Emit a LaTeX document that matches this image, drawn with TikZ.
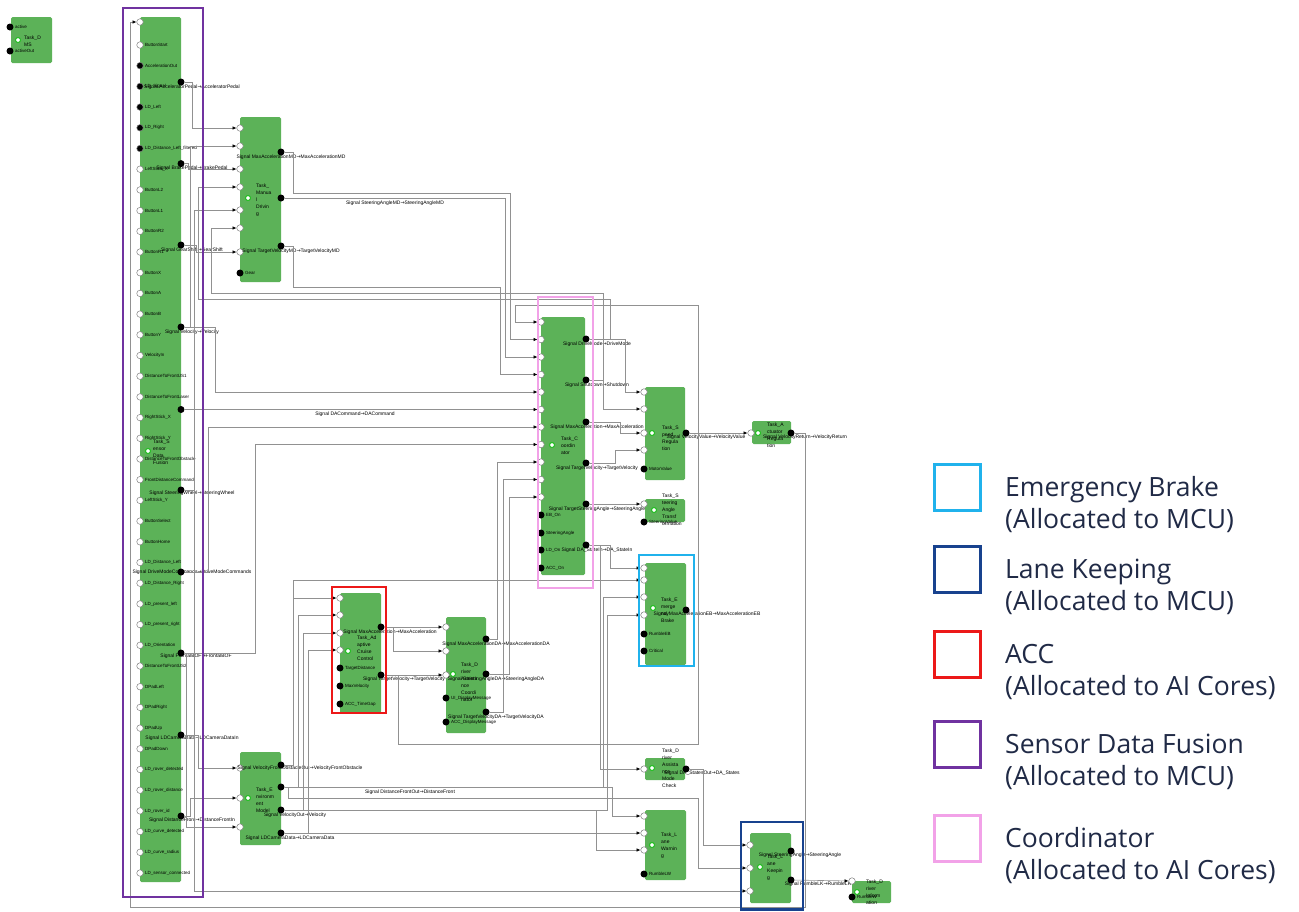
\documentclass[tikz,border=0pt]{standalone}
\usepackage{fontspec}
\setmainfont{Liberation Sans}
\newfontfamily\legendfont{Open Sans}
\newfontfamily\arrowfont{DejaVu Sans}
\newcommand{\sigto}{{\arrowfont →}}
\usetikzlibrary{arrows.meta}

\definecolor{taskgreen}{RGB}{92,178,88}
\definecolor{wiregray}{RGB}{145,145,145}
\definecolor{ebcyan}{RGB}{32,178,236}
\definecolor{lkblue}{RGB}{24,66,142}
\definecolor{accred}{RGB}{236,24,24}
\definecolor{sdfpurple}{RGB}{112,50,160}
\definecolor{coordpink}{RGB}{242,162,232}
\definecolor{legendtext}{RGB}{32,42,70}
\definecolor{icongreen}{RGB}{30,190,30}

\tikzset{
  task/.style={fill=taskgreen, rounded corners=1.5pt},
  inport/.style={circle, draw=gray, fill=white, line width=0.5pt, inner sep=0pt, minimum size=6.5pt},
  outport/.style={circle, fill=black, inner sep=0pt, minimum size=7pt},
  portlab/.style={anchor=west, inner sep=0pt, font=\fontsize{4.5}{5}\selectfont},
  siglab/.style={inner sep=0pt, font=\fontsize{5}{6}\selectfont},
  taskname/.style={anchor=west, align=left, inner sep=0pt, font=\fontsize{5}{7}\selectfont},
  taskicon/.style={circle, draw=icongreen, fill=white, line width=1pt, inner sep=0pt, minimum size=5pt},
  wire/.style={draw=wiregray, line width=0.6pt},
  zone/.style={line width=2.6pt},
  legbox/.style={draw, line width=3pt, inner sep=0pt, minimum size=46pt},
  legtext/.style={anchor=base west, inner sep=0pt, text=legendtext, font=\legendfont\fontsize{26.5}{30}\selectfont}
}

\begin{document}
\begin{tikzpicture}[x=1pt, y=-1pt, >={Latex[length=4pt,width=3.6pt,color=black]}]
  \useasboundingbox (0,0) rectangle (1299,911);
  \fill[white] (0,0) rectangle (1299,911);

  % task blocks
  \fill[task] (11,17) rectangle (52,63);
  \fill[task] (140,17) rectangle (181,882);
  \fill[task] (240,117) rectangle (281,282);
  \fill[task] (541,317) rectangle (585,575);
  \fill[task] (645,387) rectangle (685,480);
  \fill[task] (752,421) rectangle (791,444);
  \fill[task] (645,499) rectangle (685,522);
  \fill[task] (645,563) rectangle (686,665);
  \fill[task] (340,593) rectangle (381,713);
  \fill[task] (446,617) rectangle (486,733);
  \fill[task] (645,758) rectangle (685,780);
  \fill[task] (645,810) rectangle (686,880);
  \fill[task] (750,833) rectangle (791,903);
  \fill[task] (852,881) rectangle (891,903);
  \fill[task] (240,752) rectangle (281,845);

  % DMS
  \node[outport] (dmsa) at (10,27) {};
  \node[portlab] (dmsal) at (15,27) {active};
  \node[outport] (dmsb) at (10,51) {};
  \node[portlab] (dmsbl) at (15,51) {activeOut};
  \node[taskicon] (dmsic) at (18,40) {};
  \node[taskname] (dmsn) at (24,41) {Task\_D\\MS};

  % sensor data fusion
  \node[inport] (sdfin) at (140,22) {};
  \foreach \f/\t [count=\i] in {white/ButtonStart, black/AccelerationOut, black/LD\_Signal, black/LD\_Left, black/LD\_Right, black/LD\_Distance\_Left\_filtered, white/LeftStick\_X, white/ButtonL2, white/ButtonL1, white/ButtonR2, white/ButtonR1, white/ButtonX, white/ButtonA, white/ButtonB, white/ButtonY, white/VelocityIn, white/DistanceToFrontUS1, white/DistanceToFrontLaser, white/RightStick\_X, white/RightStick\_Y, white/DistanceToFrontObstacle, white/FrontDistanceCommand, white/LeftStick\_Y, white/ButtonSelect, white/ButtonHome, white/LD\_Distance\_Left, white/LD\_Distance\_Right, white/LD\_present\_left, white/LD\_present\_right, white/LD\_Orientation, white/DistanceToFrontUS2, white/DPadLeft, white/DPadRight, white/DPadUp, white/DPadDown, white/LD\_rover\_detected, white/LD\_rover\_distance, white/LD\_rover\_id, white/LD\_curve\_detected, white/LD\_curve\_radius, white/LD\_sensor\_connected} {
    \node[inport, fill=\f] (sdfp\i) at (140,{45+20.7*(\i-1)}) {};
    \node[portlab] (sdfpl\i) at (145,{45+20.7*(\i-1)}) {\t};
  }
  \foreach \y/\lx/\ly/\sa/\sb [count=\i] in {82/192/87/AcceleratorPedal/AcceleratorPedal, 163.6/192/168/BrakePedal/BrakePedal, 245/192/250/GearShift/GearShift, 327/192/332/Velocity/Velocity, 409.5/355/414/DACommand/DACommand, 490/192/493/SteeringWheel/SteeringWheel, 572/192/572/DriveModeCommands/DriveModeCommands, 653/196/656/FrontalBOF/FrontalBOF, 735/192/738/LDCameraData/LDCameraDataIn, 816/192/820/DistanceFront/DistanceFrontIn} {
    \node[outport] (sdfo\i) at (181,\y) {};
    \node[siglab] (sdfol\i) at (\lx,\ly) {Signal \sa\sigto\sb};
  }
  \node[taskicon] (sdfic) at (148,451) {};
  \node[taskname] (sdfn) at (153,452) {Task\_S\\ensor\\Data\\Fusion};

  % manual driving
  \foreach \y [count=\i] in {128,146,169,187,210,228,252}
    \node[inport] (mdi\i) at (240,\y) {};
  \node[outport] (mdg) at (240,273) {};
  \node[portlab] (mdgl) at (245,273) {Gear};
  \foreach \y/\lx/\ly/\sa [count=\i] in {152/291/157/MaxAccelerationMD, 198/395/203/SteeringAngleMD, 246/291/251/TargetVelocityMD} {
    \node[outport] (mdo\i) at (281,\y) {};
    \node[siglab] (mdol\i) at (\lx,\ly) {Signal \sa\sigto\sa};
  }
  \node[taskicon] (mdic) at (248,198) {};
  \node[taskname] (mdn) at (256,200) {Task\_\\Manua\\l\\Drivin\\g};

  % coordinator
  \foreach \i in {1,...,11}
    \node[inport] (coi\i) at (541,{322+17.5*(\i-1)}) {};
  \foreach \y/\t [count=\i] in {515/EB\_On, 533/SteeringAngle, 550/LD\_On, 568/ACC\_On} {
    \node[outport] (coe\i) at (541,\y) {};
    \node[portlab] (coel\i) at (546,\y) {\t};
  }
  \foreach \y/\sa/\sb [count=\i] in {339/DriveMode/DriveMode, 380/Shutdown/Shutdown, 422/MaxAcceleration/MaxAcceleration, 463/TargetVelocity/TargetVelocity, 504/TargetSteeringAngle/SteeringAngle, 545/DA\_StateIn/DA\_StateIn} {
    \node[outport] (coo\i) at (586,\y) {};
    \node[siglab] (cool\i) at (597,\y+5) {Signal \sa\sigto\sb};
  }
  \node[taskicon] (coic) at (552,445) {};
  \node[taskname] (con) at (561,446) {Task\_C\\oordin\\ator};

  % speed regulation
  \foreach \y [count=\i] in {392,409,433,450}
    \node[inport] (sri\i) at (644,\y) {};
  \node[outport] (sre) at (644,469) {};
  \node[portlab] (srel) at (649,469) {MotorValue};
  \node[outport] (sro) at (686,433) {};
  \node[siglab] (srol) at (706,437) {Signal VelocityValue\sigto VelocityValue};
  \node[taskicon] (sric) at (652,433) {};
  \node[taskname] (srn) at (662,438) {Task\_S\\peed\\Regula\\tion};

  % actuator regulation
  \node[inport] (ari) at (751,433) {};
  \node[outport] (aro) at (791,433) {};
  \node[siglab] (arol) at (805,437) {Signal VelocityReturn\sigto VelocityReturn};
  \node[taskicon] (aric) at (758,433) {};
  \node[taskname] (arn) at (767,435) {Task\_A\\ctuator\\Regula\\tion};

  % steering angle transformation
  \node[inport] (sti) at (644,504) {};
  \node[outport] (ste) at (644,522) {};
  \node[portlab] (stel) at (649,522) {SteeringValue};
  \node[taskicon] (stic) at (654,510) {};
  \node[taskname] (stn) at (662,510) {Task\_S\\teering\\Angle\\Transf\\ormation};

  % emergency brake
  \foreach \y [count=\i] in {568,580,597,615}
    \node[inport] (ebi\i) at (644,\y) {};
  \foreach \y/\t [count=\i] in {634/RumbleEB, 651/Critical} {
    \node[outport] (ebe\i) at (644,\y) {};
    \node[portlab] (ebel\i) at (649,\y) {\t};
  }
  \node[outport] (ebo) at (686,610) {};
  \node[siglab] (ebol) at (707,614) {Signal MaxAccelerationEB\sigto MaxAccelerationEB};
  \node[taskicon] (ebic) at (653,608) {};
  \node[taskname] (ebn) at (661,610) {Task\_E\\merge\\ncy\\Brake};

  % adaptive cruise control
  \foreach \y [count=\i] in {598,615,633,650}
    \node[inport] (aci\i) at (340,\y) {};
  \foreach \y/\t [count=\i] in {668/TargetDistance, 686/MaxVelocity, 704/ACC\_TimeGap} {
    \node[outport] (ace\i) at (340,\y) {};
    \node[portlab] (acel\i) at (345,\y) {\t};
  }
  \node[outport] (aco1) at (381,627) {};
  \node[siglab] (acol1) at (390,632) {Signal MaxAcceleration\sigto MaxAcceleration};
  \node[outport] (aco2) at (381,675) {};
  \node[siglab] (acol2) at (404,679) {Signal TargetVelocity\sigto TargetVelocity};
  \node[taskicon] (acic) at (348,651) {};
  \node[taskname] (acn) at (357,648) {Task\_Ad\\aptive\\Cruise\\Control};

  % driver assistance coordinator
  \foreach \y [count=\i] in {627,651,675}
    \node[inport] (dai\i) at (446,\y) {};
  \foreach \y/\t [count=\i] in {698/UI\_DisplayMessage, 722/ACC\_DisplayMessage} {
    \node[outport] (dae\i) at (446,\y) {};
    \node[portlab] (dael\i) at (451,\y) {\t};
  }
  \foreach \y/\sa [count=\i] in {639/MaxAccelerationDA, 674/SteeringAngleDA, 712/TargetVelocityDA} {
    \node[outport] (dao\i) at (486,\y) {};
    \node[siglab] (daol\i) at (496,\y+5) {Signal \sa\sigto\sa};
  }
  \node[taskicon] (daic) at (453,674) {};
  \node[taskname] (dan) at (461,682) {Task\_D\\river\\Assista\\nce\\Coordi\\nator};

  % driver assistance mode check
  \node[inport] (dmi) at (644,769) {};
  \node[outport] (dmo) at (686,769) {};
  \node[siglab] (dmol) at (702,773) {Signal DA\_StatesOut\sigto DA\_States};
  \node[taskicon] (dmic) at (652,768) {};
  \node[taskname] (dmn) at (662,768) {Task\_D\\river\\Assista\\nce\\Mode\\Check};

  % lane warning
  \foreach \y [count=\i] in {816,833,850}
    \node[inport] (lwi\i) at (644,\y) {};
  \node[outport] (lwe) at (644,874) {};
  \node[portlab] (lwel) at (649,874) {RumbleLW};
  \node[taskicon] (lwic) at (652,845) {};
  \node[taskname] (lwn) at (661,846) {Task\_L\\ane\\Warnin\\g};

  % lane keeping
  \foreach \y [count=\i] in {845,868,891}
    \node[inport] (lki\i) at (750,\y) {};
  \node[outport] (lko1) at (791,851) {};
  \node[siglab] (lkol1) at (800,855) {Signal SteeringAngle\sigto SteeringAngle};
  \node[outport] (lko2) at (791,880) {};
  \node[siglab] (lkol2) at (818,884) {Signal RumbleLK\sigto RumbleLK};
  \node[taskicon] (lkic) at (760,867) {};
  \node[taskname] (lkn) at (767,868) {Task\_L\\ane\\Keepin\\g};

  % driver information
  \node[inport] (dii) at (852,881) {};
  \node[outport] (die) at (852,897) {};
  \node[portlab] (diel) at (857,897) {RumbleW};
  \node[taskicon] (diic) at (857,892) {};
  \node[taskname] (din) at (866,892) {Task\_D\\river\\Inform\\ation};

  % environment model
  \foreach \y [count=\i] in {768,798,827}
    \node[inport] (emi\i) at (240,\y) {};
  \foreach \y/\lx/\ly/\sa/\sb [count=\i] in {765/300/768/VelocityFrontObstacleOut/VelocityFrontObstacle, 787/410/792/DistanceFrontOut/DistanceFront, 810/295/815/VelocityOut/Velocity, 833/290/838/LDCameraData/LDCameraData} {
    \node[outport] (emo\i) at (281,\y) {};
    \node[siglab] (emol\i) at (\lx,\ly) {Signal \sa\sigto\sb};
  }
  \node[taskicon] (emic) at (248,798) {};
  \node[taskname] (emn) at (256,800) {Task\_E\\nvironm\\ent\\Model};

  % wires
  \coordinate (jv) at (293,765);
  \draw[wire,->] (aro) -- (805,433) -- (805,907) -- (130,907) |- (sdfin);
  \draw[wire,->] (sdfo1) -- (192,82) |- (mdi1);
  \draw[wire,->] (sdfo4) -- (190,327) |- (mdi2);
  \draw[wire,->] (sdfo2) -- (188,163.6) |- (mdi3);
  \draw[wire,->] (coo1) -- (610,339) |- (198,299) |- (mdi4);
  \draw[wire,->] (sdfo6) -- (194,490) |- (mdi5);
  \draw[wire,->] (coo2) -- (603,380) |- (211,293) |- (mdi6);
  \draw[wire,->] (sdfo3) -- (196,245) |- (mdi7);
  \draw[wire,->] (mdo1) -- (293,152) |- (510,193) |- (coi2);
  \draw[wire,->] (mdo2) -- (505,198) |- (coi3);
  \draw[wire,->] (mdo3) -- (293,246) |- (500,287) |- (coi4);
  \draw[wire,->] (sdfo4) -- (215,327) |- (coi5);
  \draw[wire,->] (sdfo5) -- (coi6);
  \draw[wire,->] (sdfo7) -- (208,572) |- (coi7);
  \draw[wire,->] (sdfo8) -- (255,653) |- (coi8);
  \draw[wire,->] (dao1) -- (497,639) |- (coi9);
  \draw[wire,->] (dao3) -- (503,712) |- (coi10);
  \draw[wire,->] (dao2) -- (509,674) |- (coi11);
  \draw[wire,->] (aco2) -- (398,675) |- (698,744) |- (515,305) |- (coi1);
  \draw[wire,->] (coo1) -- (625,339) |- (sri1);
  \draw[wire,->] (coo2) -- (603,380) |- (sri2);
  \draw[wire,->] (coo3) -- (620,422) |- (sri3);
  \draw[wire,->] (coo4) -- (615,463) |- (sri4);
  \draw[wire,->] (coo5) -- (sti);
  \draw[wire,->] (coo6) -- (610,545) |- (ebi1);
  \draw[wire,->] (coo6) -- (600,545) |- (dmi);
  \draw[wire,->] (sro) -- (ari);
  \draw[wire,->] (emo1) -- (jv) |- (ebi2);
  \draw[wire,->] (jv) |- (aci1);
  \draw[wire,->] (emo2) -- (298,787) |- (aci2);
  \draw[wire,->] (emo2) -- (603,787) |- (ebi3);
  \draw[wire,->] (emo2) -- (612,787) |- (lwi1);
  \draw[wire,->] (emo2) -- (288,787) |- (698,798) |- (lki2);
  \draw[wire,->] (emo3) -- (303,810) |- (aci3);
  \draw[wire,->] (emo3) -- (607,810) |- (ebi4);
  \draw[wire,->] (emo3) -- (596,810) |- (lwi3);
  \draw[wire,->] (emo4) -- (308,833) |- (aci4);
  \draw[wire,->] (emo4) -- (lwi2);
  \draw[wire,->] (aco1) -- (dai1);
  \draw[wire,->] (aco1) -- (393,627) |- (dai2);
  \draw[wire,->] (aco2) -- (dai3);
  \draw[wire,->] (dmo) -- (703,769) |- (lki1);
  \draw[wire,->] (sdfo6) -- (194,490) |- (lki3);
  \draw[wire,->] (lko2) -- (dii);
  \draw[wire,->] (sdfo9) -- (198,735) |- (emi1);
  \draw[wire,->] (sdfo10) -- (190,816) |- (emi2);
  \draw[wire,->] (sdfo8) -- (186,653) |- (emi3);

  % allocation frames
  \draw[zone, draw=sdfpurple] (123,8) rectangle (203,897);
  \draw[zone, draw=coordpink] (538,297) rectangle (593,588);
  \draw[zone, draw=accred] (332,587) rectangle (386,713);
  \draw[zone, draw=ebcyan] (639,555) rectangle (694,666);
  \draw[zone, draw=lkblue] (741,822) rectangle (803,909.5);

  % legend
  \foreach \c/\y/\sa/\sb [count=\i] in {ebcyan/487/Emergency Brake/{(Allocated to MCU)}, lkblue/569.5/Lane Keeping/{(Allocated to MCU)}, accred/654/ACC/{(Allocated to AI Cores)}, sdfpurple/744.5/Sensor Data Fusion/{(Allocated to MCU)}, coordpink/838.5/Coordinator/{(Allocated to AI Cores)}} {
    \node[legbox, draw=\c] (leg\i) at (957,\y) {};
    \node[legtext] (legt\i) at (1005,\y+9) {\sa};
    \node[legtext] (legs\i) at (1005,\y+41) {\sb};
  }
\end{tikzpicture}
\end{document}
